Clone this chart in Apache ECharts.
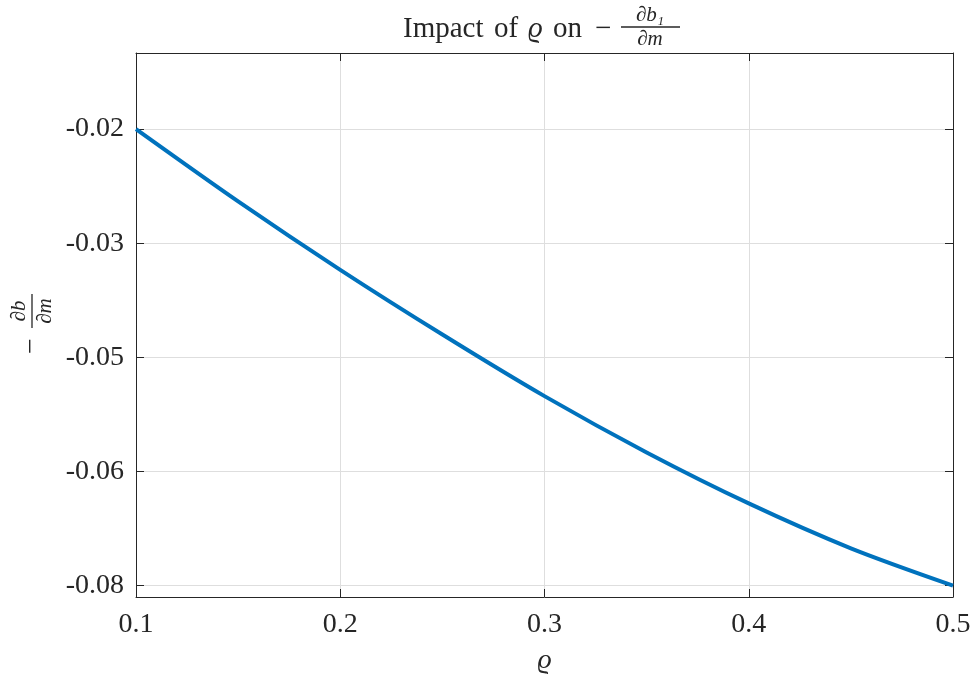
<!DOCTYPE html>
<html>
<head>
<meta charset="utf-8">
<script src="https://cdn.jsdelivr.net/npm/echarts@6/dist/echarts.min.js"></script>
<style>
  html, body { margin: 0; padding: 0; background: #fff; }
  #chart { width: 976px; height: 682px; }
</style>
</head>
<body>
<div id="chart"></div>
<script>
// values
const rho = [0.1, 0.15, 0.2, 0.25, 0.3, 0.35, 0.4, 0.45, 0.5];
const dbdm = [-0.02, -0.0295, -0.0385, -0.047, -0.0551, -0.0625, -0.0692, -0.0751, -0.08];

const xTicks = [0.1, 0.2, 0.3, 0.4, 0.5];
const yTickValues = [-0.08, -0.065, -0.05, -0.035, -0.02];
const yTickLabels = ['-0.08', '-0.06', '-0.05', '-0.03', '-0.02'];

const FONT = "'Liberation Serif', 'DejaVu Serif', serif";
const INK = '#262626';
const GRID = '#dedede';

function yLabel(v) {
  for (let i = 0; i < yTickValues.length; i++) {
    if (Math.abs(v - yTickValues[i]) < 1e-9) return yTickLabels[i];
  }
  return '';
}

// title words placed one by one, spaced out like the LaTeX original
function word(txt, x, italic) {
  return { type: 'text', x: x, y: 29,
    style: { text: txt, font: (italic ? 'italic ' : '') + '29px ' + FONT, fill: INK,
      align: 'left', verticalAlign: 'middle' } };
}

let chart = echarts.init(document.getElementById('chart'));

const axisLine = { show: true, lineStyle: { color: INK, width: 1 } };
const tick = { show: true, inside: true, length: 8, lineStyle: { color: INK } };

chart.setOption({
  animation: false,
  backgroundColor: '#fff',
  grid: { left: 136, right: 23, top: 53, bottom: 85 },
  xAxis: [
    {
      type: 'value', min: 0.1, max: 0.5, interval: 0.1,
      axisLine: axisLine,
      axisTick: Object.assign({ customValues: xTicks }, tick),
      axisLabel: { customValues: xTicks, color: INK, fontFamily: FONT, fontSize: 28, margin: 14,
        formatter: v => v.toFixed(1) },
      splitLine: { show: true, lineStyle: { color: GRID, width: 1 } },
      name: 'ϱ', nameLocation: 'middle', nameGap: 50,
      nameTextStyle: { color: INK, fontFamily: FONT, fontSize: 28, fontStyle: 'italic' }
    },
    {
      type: 'value', position: 'top', min: 0.1, max: 0.5, interval: 0.1,
      axisLine: axisLine, axisTick: tick,
      axisLabel: { show: false }, splitLine: { show: false }
    }
  ],
  yAxis: [
    {
      type: 'value', min: -0.0815, max: -0.01,
      axisLine: axisLine,
      axisTick: Object.assign({ customValues: yTickValues }, tick),
      axisLabel: { customValues: yTickValues, color: INK, fontFamily: FONT, fontSize: 28,
        margin: 12, formatter: yLabel },
      splitLine: { show: true, lineStyle: { color: GRID, width: 1 } }
    },
    {
      type: 'value', position: 'right', min: -0.0815, max: -0.01,
      axisLine: axisLine,
      axisTick: Object.assign({ customValues: yTickValues }, tick),
      axisLabel: { show: false }, splitLine: { show: false }
    }
  ],
  series: [
    {
      type: 'line',
      data: rho.map((r, i) => [r, dbdm[i]]),
      smooth: 0.3,
      showSymbol: false,
      lineStyle: { color: '#0072BD', width: 4 }
    }
  ],
  graphic: [
    // title: Impact of ϱ on −∂b1/∂m
    word('Impact', 403),
    word('of', 494),
    word('ϱ', 528, true),
    word('on', 553),
    word('−', 595),
    { type: 'text', x: 650, y: 15,
      style: { text: '∂b₁', font: 'italic 21px ' + FONT, fill: INK,
        align: 'center', verticalAlign: 'middle' } },
    { type: 'line', shape: { x1: 621, y1: 27, x2: 680, y2: 27 },
      style: { stroke: INK, lineWidth: 1.3 } },
    { type: 'text', x: 650, y: 39,
      style: { text: '∂m', font: 'italic 21px ' + FONT, fill: INK,
        align: 'center', verticalAlign: 'middle' } },
    // y axis name: −∂b/∂m, rotated
    {
      type: 'group', x: 32, y: 311, rotation: Math.PI / 2,
      children: [
        { type: 'text', x: -35, y: 0,
          style: { text: '−', font: '28px ' + FONT, fill: INK,
            align: 'center', verticalAlign: 'middle' } },
        { type: 'text', x: 0, y: -13,
          style: { text: '∂b', font: 'italic 21px ' + FONT, fill: INK,
            align: 'center', verticalAlign: 'middle' } },
        { type: 'line', shape: { x1: -17, y1: 0, x2: 17, y2: 0 },
          style: { stroke: INK, lineWidth: 1.3 } },
        { type: 'text', x: 0, y: 13,
          style: { text: '∂m', font: 'italic 21px ' + FONT, fill: INK,
            align: 'center', verticalAlign: 'middle' } }
      ]
    }
  ]
});
</script>
</body>
</html>
